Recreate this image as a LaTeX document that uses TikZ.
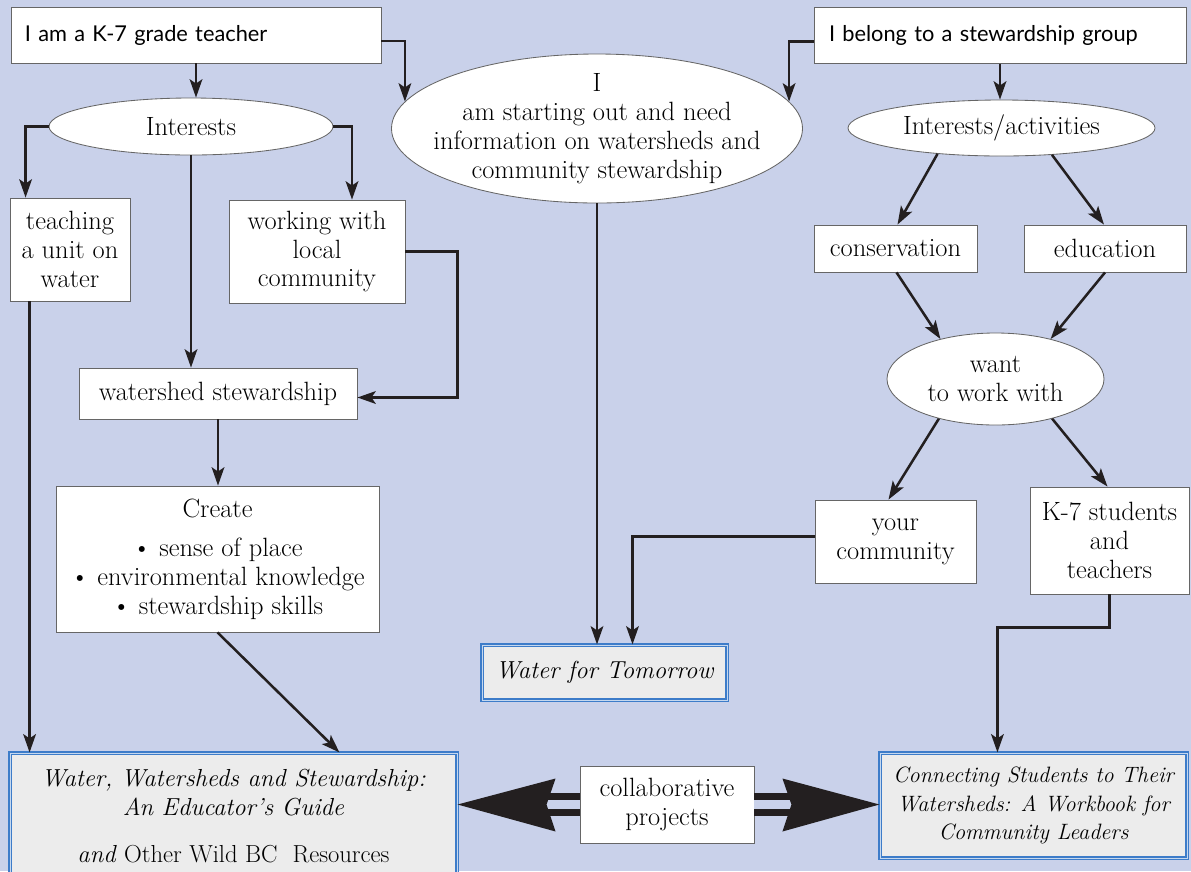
\documentclass[tikz,border=0pt]{standalone}
\usepackage{fontspec}
\usetikzlibrary{shapes.geometric,arrows.meta,calc}
\newfontfamily\handfont{Lato}
\definecolor{bgblue}{RGB}{201,209,234}
\definecolor{bookgrey}{RGB}{236,236,236}
\definecolor{bookblue}{RGB}{61,124,201}
\definecolor{ink}{RGB}{35,31,32}
\newlength\pxu
\setlength\pxu{0.025cm}

\begin{document}
\begin{tikzpicture}[x=0.025cm, y=-0.025cm,
  font=\fontsize{18.8}{20.6}\selectfont,
  box/.style={draw=black!60, line width=0.6pt, fill=white, align=center, inner sep=0pt},
  startbox/.style={box, font=\handfont\fontsize{15.5}{19}\selectfont, align=left, minimum height=56\pxu},
  oval/.style={ellipse, draw=black!60, line width=0.6pt, fill=white, align=center, inner sep=0pt},
  book/.style={draw=bookblue, double=bookblue!30!white, double distance=0.6pt, line width=0.8pt, fill=bookgrey, align=center, inner sep=0pt, font=\fontsize{17.5}{20.6}\selectfont\itshape},
  link/.style={line width=1.8pt, draw=ink, -{Stealth[length=13pt,width=9pt,inset=3pt]}},
  fat/.style={line width=7\pxu, draw=ink, double=bgblue, double distance=9\pxu},
]
\useasboundingbox[fill=bgblue] (0,0) rectangle (1191,871);

% starting points
\node[startbox, inner xsep=14\pxu, text width=342\pxu] (teacher) at (196,35) {I am a K-7 grade teacher};
\node[startbox, inner xsep=15\pxu, text width=342\pxu] (steward) at (1000,35.5) {I belong to a stewardship group};

% ovals
\node[oval, minimum width=284\pxu, minimum height=57\pxu] (interests) at (191,126.5) {Interests};
\node[oval, minimum width=411\pxu, minimum height=149\pxu, inner xsep=-50\pxu, inner ysep=-12\pxu] (big) at (597,128.5)
  {I\\am starting out and need\\information on watersheds and\\community stewardship};
\node[oval, minimum width=307\pxu, minimum height=56\pxu] (acts) at (1001.5,128) {Interests/activities};
\node[oval, minimum width=217\pxu, minimum height=92\pxu] (want) at (995.5,379) {want\\to work with};

% left column
\node[box, minimum width=120\pxu, minimum height=103\pxu] (teaching) at (70,249.5) {teaching\\a unit on\\water};
\node[box, minimum width=176\pxu, minimum height=103\pxu] (working) at (317,251.5) {working with\\local\\community};
\node[box, minimum width=278\pxu, minimum height=51\pxu] (watershed) at (218,393.5) {watershed stewardship};
\node[box, minimum width=323\pxu, minimum height=146\pxu] (create) at (217.5,559)
  {Create\\[7pt]\textbullet{} sense of place\\\textbullet{} environmental knowledge\\\textbullet{} stewardship skills};

% right column
\node[box, minimum width=163\pxu, minimum height=47\pxu] (cons) at (895.5,248.5) {conservation};
\node[box, minimum width=162\pxu, minimum height=47\pxu] (edu) at (1105,248.5) {education};
\node[box, minimum width=161\pxu, minimum height=83\pxu] (community) at (895.5,541.5) {your\\community};
\node[box, minimum width=159\pxu, minimum height=107\pxu] (k7) at (1109.5,540.5) {K-7 students\\and\\teachers};

% resources
\node[book, minimum width=245\pxu, minimum height=55\pxu] (water) at (604.5,672.5) {Water for Tomorrow};
\node[book, minimum width=447\pxu, minimum height=126\pxu] (guide) at (233.5,816)
  {Water, Watersheds and Stewardship:\\An Educator's Guide\\[13pt]and \upshape Other Wild BC\ \ Resources};
\node[book, minimum width=307\pxu, minimum height=105\pxu, font=\fontsize{15.8}{20}\selectfont\itshape] (connect) at (1033.5,805.5)
  {Connecting Students to Their\\Watersheds: A Workbook for\\Community Leaders};
\node[box, minimum width=174\pxu, minimum height=77\pxu] (collab) at (667,804.5) {collaborative\\projects};

% connectors
\draw[link] (teacher.south) -- (teacher.south |- interests.north);
\draw[link] ($(teacher.east)+(0,6)$) -| (big.172);
\draw[link] ($(steward.west)+(0,6)$) -| (big.8);
\draw[link] (steward.south) -- (steward.south |- acts.north);
\draw[link] (interests.west) -| ($(teaching.north west)+(16,0)$);
\draw[link] (interests.east) -| ($(working.north)+(35,0)$);
\draw[link] (interests.south) -- (interests.south |- watershed.north);
\draw[link] (working.east) -- ++(52,0) |- ($(watershed.east)+(0,4)$);
\draw[link] (watershed.south) -- (watershed.south |- create.north);
\coordinate (tstem) at ($(teaching.south west)+(20,0)$);
\draw[link] (tstem) -- (tstem |- guide.north);
\draw[link] (create.south) -- ($(guide.north west)+(330,0)$);
\draw[link] (big.south) -- (big.south |- water.north);
\draw[link] ($(community.west)+(0,-5)$) -| ($(water.north)+(28,0)$);
\draw[link] (acts.202) -- ($(cons.north)+(2,0)$);
\draw[link] (acts.332) -- ($(edu.north)+(-1,0)$);
\draw[link] ($(cons.south)+(1,0)$) -- (want.144);
\draw[link] (edu.south) -- (want.36);
\draw[link] (want.215) -- ($(community.north)+(-7,0)$);
\draw[link] (want.325) -- ($(k7.north)+(-2,0)$);
\draw[link] (k7.south) -- ++(0,33) -| ($(connect.north west)+(118,0)$);

% big double arrows
\coordinate (ltip) at (guide.east |- collab.west);
\coordinate (rtip) at (connect.west |- collab.east);
\draw[fat] (collab.west) -- ($(ltip)+(87,0)$);
\draw[fat] (collab.east) -- ($(rtip)+(-86,0)$);
\fill[ink] (ltip) -- ($(ltip)+(98,-26)$) -- ($(ltip)+(89,0)$) -- ($(ltip)+(98,27)$) -- cycle;
\fill[ink] (rtip) -- ($(rtip)+(-97,-26)$) -- ($(rtip)+(-88,0)$) -- ($(rtip)+(-97,27)$) -- cycle;
\end{tikzpicture}
\end{document}
